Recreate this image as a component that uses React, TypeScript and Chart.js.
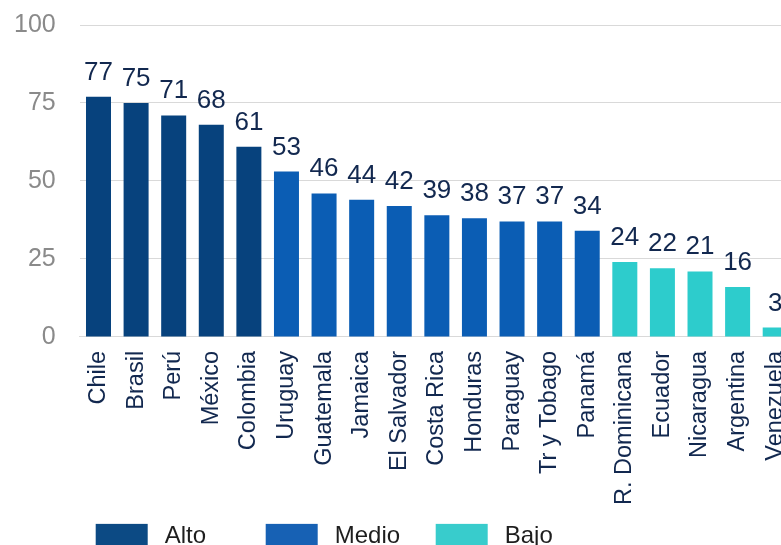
import React, { useEffect, useRef } from "react";
import { Chart, registerables } from "chart.js";

Chart.register(...registerables);

const countries = [
  "Chile", "Brasil", "Perú", "México", "Colombia",
  "Uruguay", "Guatemala", "Jamaica", "El Salvador", "Costa Rica", "Honduras", "Paraguay", "Tr y Tobago", "Panamá",
  "R. Dominicana", "Ecuador", "Nicaragua", "Argentina", "Venezuela",
];
const altoValues = [77, 75, 71, 68, 61, null, null, null, null, null, null, null, null, null, null, null, null, null, null];
const medioValues = [null, null, null, null, null, 53, 46, 44, 42, 39, 38, 37, 37, 34, null, null, null, null, null];
const bajoValues = [null, null, null, null, null, null, null, null, null, null, null, null, null, null, 24, 22, 21, 16, 3];
const seriesNames = ["Alto", "Medio", "Bajo"];
const yTicks = [0, 25, 50, 75, 100];

const COLORS = ["#07427d", "#0b5db4", "#2dcccc"];
const LEGEND_COLORS = ["#0c4a84", "#1761b4", "#38cccc"];
const FONT = "'Liberation Sans', Arial, Helvetica, sans-serif";
const LABEL_COLOR = "#12284f";

const valueLabels = {
  id: "valueLabels",
  afterDatasetsDraw(chart: any) {
    const ctx = chart.ctx;
    ctx.save();
    ctx.font = `26px ${FONT}`;
    ctx.fillStyle = LABEL_COLOR;
    ctx.textAlign = "center";
    ctx.textBaseline = "alphabetic";
    chart.data.datasets.forEach((ds: any, di: number) => {
      const meta = chart.getDatasetMeta(di);
      meta.data.forEach((el: any, i: number) => {
        const v = ds.data[i];
        if (v === null || v === undefined) return;
        ctx.fillText(String(v), el.x, el.y - 17);
      });
    });
    ctx.restore();
  },
};

const customLegend = {
  id: "customLegend",
  afterDraw(chart: any) {
    const ctx = chart.ctx;
    const area = chart.chartArea;
    const top = area.bottom + 187;
    const boxW = 52;
    const boxH = 22;
    const pitch = 170;
    ctx.save();
    ctx.font = `24px ${FONT}`;
    ctx.textBaseline = "middle";
    ctx.textAlign = "left";
    chart.data.datasets.forEach((ds: any, i: number) => {
      const x = area.left + 16 + i * pitch;
      ctx.fillStyle = LEGEND_COLORS[i];
      ctx.fillRect(x, top, boxW, boxH);
      ctx.fillStyle = "#1e1e1e";
      ctx.fillText(ds.label, x + boxW + 17, top + boxH / 2 + 1);
    });
    ctx.restore();
  },
};

export default function App() {
  const ref = useRef<HTMLCanvasElement | null>(null);
  useEffect(() => {
    if (!ref.current) return;
    const chart = new Chart(ref.current, {
      type: "bar",
      data: {
        labels: countries,
        datasets: [altoValues, medioValues, bajoValues].map((d, i) => ({
          label: seriesNames[i],
          data: d,
          backgroundColor: COLORS[i],
          borderWidth: 0,
          barPercentage: 0.665,
          categoryPercentage: 1,
        })),
      },
      options: {
        animation: false,
        responsive: false,
        layout: { padding: { left: 14, right: 6, top: 25, bottom: 51 } },
        plugins: {
          legend: { display: false },
          tooltip: { enabled: false },
        },
        scales: {
          x: {
            stacked: true,
            afterFit: (scale: any) => {
              scale.paddingLeft = 0;
              scale.paddingRight = 0;
            },
            grid: { display: false, drawTicks: false },
            border: { display: true, color: "#d9d9d9", width: 1 },
            ticks: {
              maxRotation: 90,
              minRotation: 90,
              autoSkip: false,
              padding: 14,
              color: LABEL_COLOR,
              font: { family: FONT, size: 23.5 },
            },
          },
          y: {
            stacked: true,
            min: 0,
            max: 100,
            afterBuildTicks: (scale: any) => {
              scale.ticks = yTicks.map((v) => ({ value: v }));
            },
            afterFit: (scale: any) => {
              scale.width = 65.7;
              scale.paddingTop = 0;
              scale.paddingBottom = 0;
            },
            grid: { color: "#d9d9d9", lineWidth: 1, drawTicks: false },
            border: { display: false },
            ticks: {
              padding: 24,
              color: "#8a8a8a",
              font: { family: FONT, size: 25 },
            },
          },
        },
      },
      plugins: [valueLabels, customLegend],
    });
    return () => chart.destroy();
  }, []);

  return (
    <div style={{ position: "absolute", left: 0, top: 0, width: 781, height: 545, overflow: "hidden", background: "#fff" }}>
      <canvas ref={ref} width={800} height={570} style={{ width: 800, height: 570, display: "block" }} />
    </div>
  );
}
